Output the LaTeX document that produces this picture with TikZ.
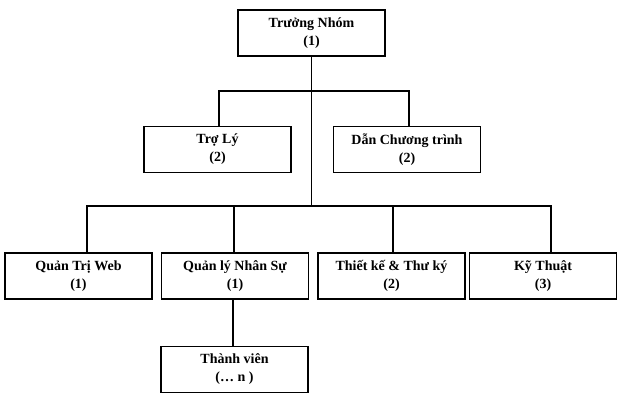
\documentclass[tikz,border=0pt]{standalone}
\usepackage{fontspec}
\setmainfont{Liberation Serif}
\usetikzlibrary{positioning}

\begin{document}
\begin{tikzpicture}[x=1pt,y=-1pt,
	box/.style={draw,line width=1.5pt,minimum width=147pt,minimum height=46pt,
		align=center,inner sep=0pt,font=\bfseries\fontsize{14}{18}\selectfont},
	link/.style={line width=1.5pt}]

\useasboundingbox (0,0) rectangle (622,405);

% the boxes
\node[box] (lead) at (311.5,33) {Trưởng Nhóm\\(1)};
\node[box] (tro) at (217.5,149.5) {Trợ Lý\\(2)};
\node[box] (dan) at (407,149.5) {Dẫn Chương trình\\(2)};
\node[box] (web) at (78.5,276) {Quản Trị Web\\(1)};
\node[box] (nhansu) at (235,276) {Quản lý Nhân Sự\\(1)};
\node[box] (thietke) at (391.5,276) {Thiết kế \& Thư ký\\(2)};
\node[box] (kythuat) at (543,276) {Kỹ Thuật\\(3)};
\node[box] (member) at (234.5,369.5) {Thành viên\\(\dots\ n )};

% the lines
\coordinate (busA) at (lead.south |- 0,91);
\coordinate (busB) at (lead.south |- 0,206);
\draw[link] (lead.south) -- (busB);
\draw[link] ([xshift=1.5pt]tro.north) |- (busA) -| ([xshift=2pt]dan.north);
\draw[link] ([xshift=8.5pt]web.north) |- (busB) -| ([xshift=8pt]kythuat.north);
\draw[link] ([xshift=-1pt]nhansu.north) -- ([xshift=-1pt]nhansu.north |- busB);
\draw[link] ([xshift=1.5pt]thietke.north) -- ([xshift=1.5pt]thietke.north |- busB);
\draw[link] ([xshift=-1.5pt]member.north) -- ([xshift=-1.5pt]member.north |- nhansu.south);
\end{tikzpicture}
\end{document}
